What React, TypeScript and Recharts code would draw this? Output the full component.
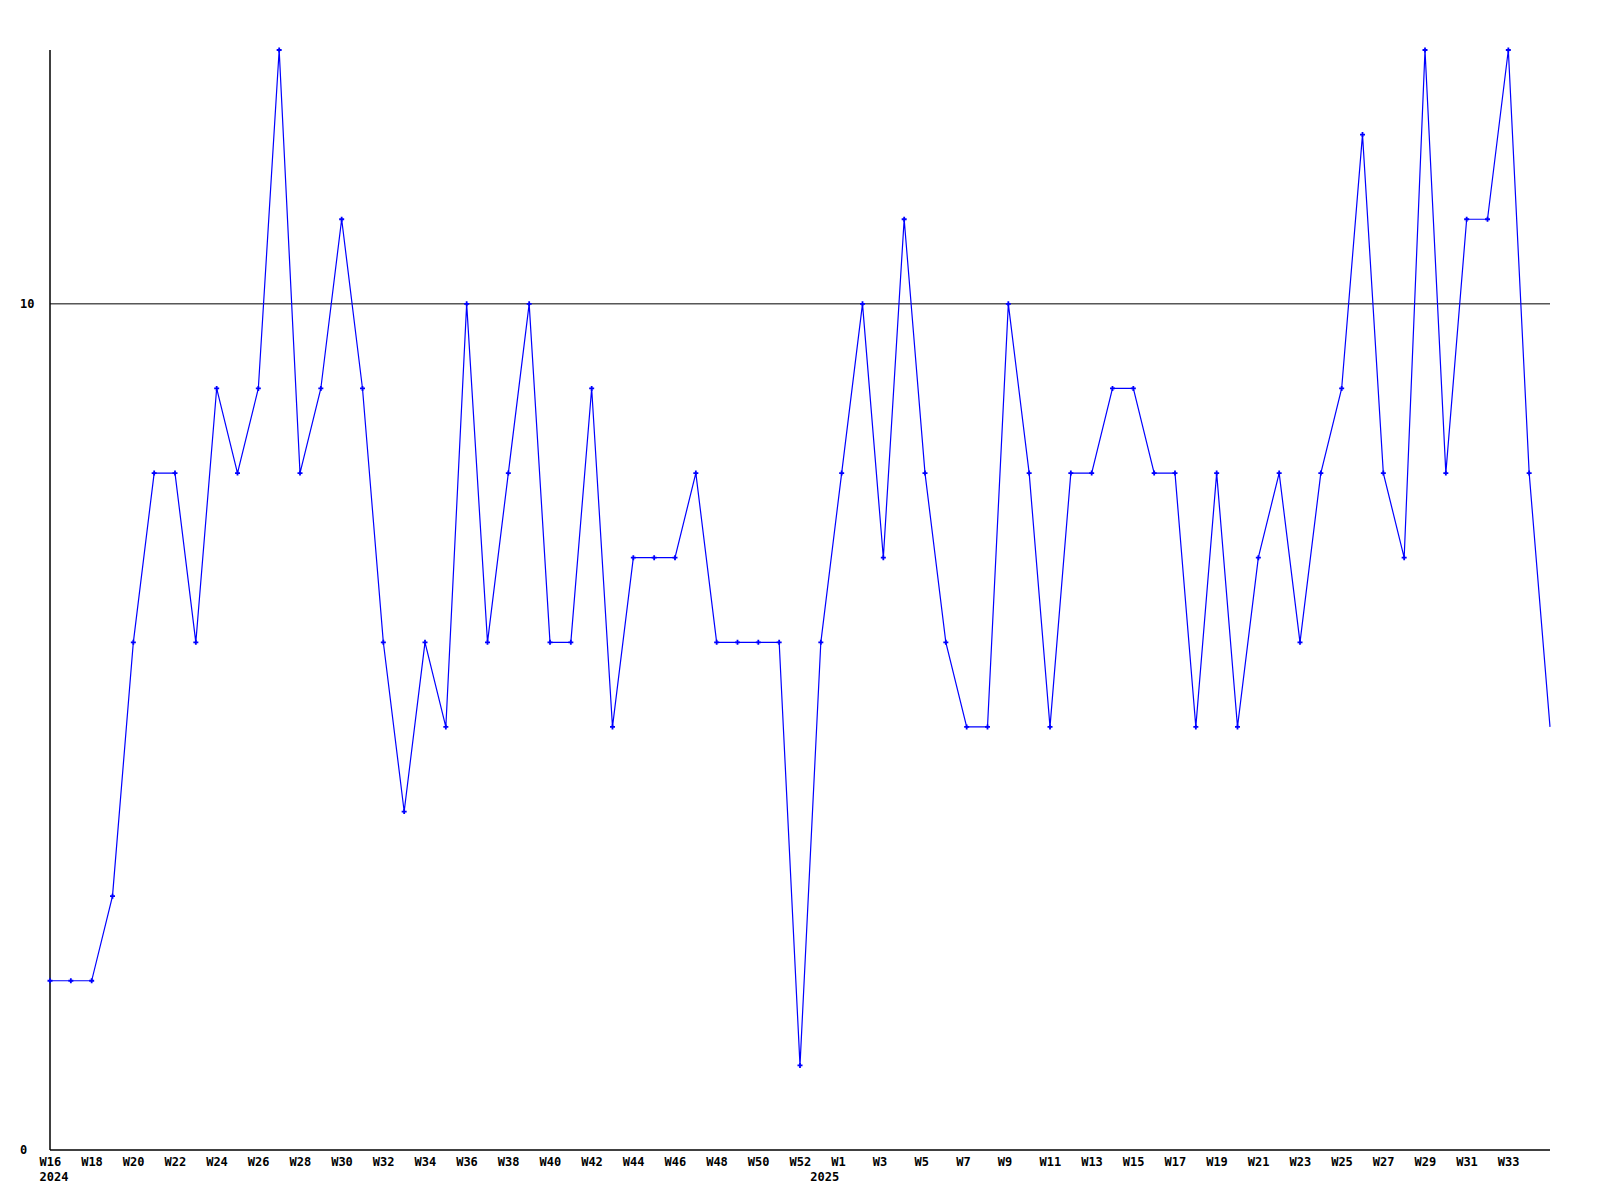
import React from "react";
import { Line, LineChart, ReferenceLine, XAxis, YAxis } from "recharts";

// weekly counts, 2024 W16 .. 2025 W35 (Sunday-based week numbers, so 2025 starts at W0)
const years = [
  "2024", "2024", "2024", "2024", "2024", "2024", "2024", "2024", "2024", "2024",
  "2024", "2024", "2024", "2024", "2024", "2024", "2024", "2024", "2024", "2024",
  "2024", "2024", "2024", "2024", "2024", "2024", "2024", "2024", "2024", "2024",
  "2024", "2024", "2024", "2024", "2024", "2024", "2024",
  "2025", "2025", "2025", "2025", "2025", "2025", "2025", "2025", "2025", "2025",
  "2025", "2025", "2025", "2025", "2025", "2025", "2025", "2025", "2025", "2025",
  "2025", "2025", "2025", "2025", "2025", "2025", "2025", "2025", "2025", "2025",
  "2025", "2025", "2025", "2025", "2025", "2025",
];

const weeks = [
  "W16", "W17", "W18", "W19", "W20", "W21", "W22", "W23", "W24", "W25",
  "W26", "W27", "W28", "W29", "W30", "W31", "W32", "W33", "W34", "W35",
  "W36", "W37", "W38", "W39", "W40", "W41", "W42", "W43", "W44", "W45",
  "W46", "W47", "W48", "W49", "W50", "W51", "W52",
  "W0", "W1", "W2", "W3", "W4", "W5", "W6", "W7", "W8", "W9",
  "W10", "W11", "W12", "W13", "W14", "W15", "W16", "W17", "W18", "W19",
  "W20", "W21", "W22", "W23", "W24", "W25", "W26", "W27", "W28", "W29",
  "W30", "W31", "W32", "W33", "W34", "W35",
];

const counts = [
  2, 2, 2, 3, 6, 8, 8, 6, 9, 8,
  9, 13, 8, 9, 11, 9, 6, 4, 6, 5,
  10, 6, 8, 10, 6, 6, 9, 5, 7, 7,
  7, 8, 6, 6, 6, 6, 1,
  6, 8, 10, 7, 11, 8, 6, 5, 5, 10,
  8, 5, 8, 8, 9, 9, 8, 8, 5, 8,
  5, 7, 8, 6, 8, 9, 12, 8, 7, 13,
  8, 11, 11, 13, 8, 5,
];

const yTicks = [0, 10];
const refLevel = 10;

const data = weeks.map((w, i) => ({
  key: `${years[i]}-${w}`,
  week: w,
  year: years[i],
  count: counts[i],
}));

const FONT = "'DejaVu Sans Mono', 'Liberation Mono', monospace";

const WeekTick = (props: any) => {
  const { x, y, index } = props;
  const last = data.length - 1;
  const row = data[index];
  const showWeek = index % 2 === 0 && index !== last;
  const showYear = index === 0 || data[index - 1].year !== row.year;
  return (
    <g>
      {showWeek && (
        <text x={x - 10.5} y={y + 14} textAnchor="start" fontFamily={FONT} fontWeight="bold" fontSize={12} fill="#000">
          {row.week}
        </text>
      )}
      {showYear && (
        <text x={x - 10.5} y={y + 29} textAnchor="start" fontFamily={FONT} fontWeight="bold" fontSize={12} fill="#000">
          {row.year}
        </text>
      )}
    </g>
  );
};

const CountTick = (props: any) => {
  const { y, payload } = props;
  return (
    <text x={20} y={y} dy={4} textAnchor="start" fontFamily={FONT} fontWeight="bold" fontSize={12} fill="#000">
      {payload.value}
    </text>
  );
};

const PlusDot = (props: any) => {
  const { cx, cy, index } = props;
  if (index === data.length - 1 || cx == null) return <g key={`d-${index}`} />;
  return (
    <path
      key={`d-${index}`}
      d={`M${cx - 2.5},${cy}H${cx + 2.5}M${cx},${cy - 2.5}V${cy + 2.5}`}
      stroke="#0000ff"
      strokeWidth={1.8}
      fill="none"
    />
  );
};

export default function App() {
  return (
    <div style={{ position: "absolute", left: 0, top: 0, width: 1600, height: 1200, background: "#fff" }}>
      <LineChart
        width={1600}
        height={1200}
        data={data}
        margin={{ top: 50, right: 50, left: 0, bottom: 0 }}
      >
        <XAxis
          dataKey="key"
          interval={0}
          height={50}
          tickLine={false}
          tickSize={0}
          tick={<WeekTick />}
          axisLine={{ stroke: "#000", strokeWidth: 1.5 }}
        />
        <YAxis
          domain={[0, 13]}
          ticks={yTicks}
          width={50}
          tickLine={false}
          tick={<CountTick />}
          axisLine={{ stroke: "#000", strokeWidth: 1.5 }}
        />
        <ReferenceLine y={refLevel} stroke="#000" strokeWidth={1} />
        <Line
          type="linear"
          dataKey="count"
          stroke="#0000ff"
          strokeWidth={1.2}
          dot={<PlusDot />}
          activeDot={false}
          isAnimationActive={false}
        />
      </LineChart>
    </div>
  );
}
